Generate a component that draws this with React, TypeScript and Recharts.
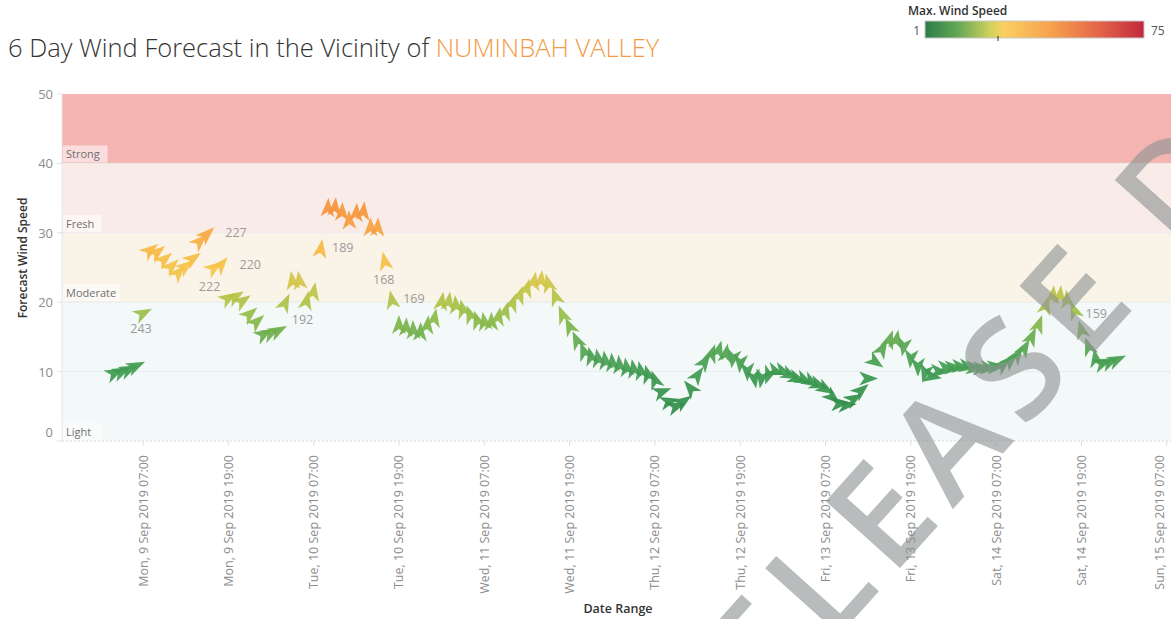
import React from 'react';
import {
  ScatterChart,
  Scatter,
  XAxis,
  YAxis,
  ReferenceArea,
  ReferenceLine,
} from 'recharts';

// hours are counted from Mon 9 Sep 2019 00:00
const firstHour = 3;

const speeds = [
  9.8, 10.0, 10.3, 10.8, 18.4, 27.5, 27.2, 26.2, 25.2, 24.3,
  25.2, 26.3, 28.8, 29.8, 25.0, 25.4, 20.6, 20.8, 20.2, 18.3,
  17.2, 15.4, 15.6, 15.9, 19.9, 23.1, 23.1, 20.2, 21.5, 27.7,
  33.6, 33.7, 33.0, 31.8, 32.9, 33.1, 30.8, 30.8, 25.9, 20.3,
  16.7, 16.4, 16.0, 15.7, 16.7, 17.7, 20.1, 20.1, 19.6, 19.0,
  18.2, 17.4, 17.2, 17.2, 17.9, 18.7, 19.9, 21.0, 22.0, 23.0,
  23.2, 22.7, 20.8, 18.2, 16.5, 14.5, 12.9, 12.2, 11.9, 11.6,
  11.3, 11.0, 10.6, 10.4, 10.1, 9.6, 8.8, 7.1, 5.7, 5.0,
  5.7, 7.6, 9.5, 11.4, 12.6, 13.1, 12.6, 11.9, 11.2, 10.0,
  9.0, 9.0, 9.5, 10.0, 10.0, 9.5, 9.0, 8.8, 8.5, 8.1,
  7.5, 6.3, 5.4, 5.2, 6.1, 7.3, 9.0, 11.4, 13.3, 14.6,
  14.6, 13.6, 11.9, 10.7, 9.8, 9.3, 10.0, 10.5, 10.6, 10.7,
  10.7, 10.5, 10.5, 10.5, 10.7, 11.0, 11.6, 12.4, 13.4, 15.0,
  16.8, 19.5, 21.0, 21.0, 20.4, 18.8, 16.0, 13.6, 11.9, 11.2,
  11.4, 11.7,
];

// wind direction (degrees, where the wind comes from)
const directions = [
  245, 245, 245, 245, 243, 232, 232, 230, 226, 222,
  232, 235, 227, 227, 235, 220, 238, 238, 236, 230,
  228, 240, 242, 242, 205, 172, 172, 192, 190, 189,
  183, 185, 182, 178, 184, 186, 180, 183, 168, 169,
  180, 182, 178, 183, 186, 190, 190, 188, 175, 165,
  160, 162, 170, 180, 190, 195, 200, 200, 195, 190,
  185, 165, 160, 158, 155, 155, 160, 165, 170, 172,
  175, 175, 172, 170, 168, 165, 160, 250, 255, 250,
  235, 140, 215, 215, 200, 195, 190, 10, 5, 0,
  350, 10, 20, 290, 290, 295, 290, 295, 300, 290,
  300, 310, 265, 265, 240, 230, 270, 305, 210, 200,
  190, 10, 5, 0, 15, 280, 275, 275, 270, 275,
  280, 275, 270, 275, 265, 230, 225, 215, 210, 205,
  200, 195, 185, 185, 175, 159, 165, 160, 170, 250,
  245, 245,
];

// hours whose direction is written next to the arrow
const labelledHours = [7, 12, 16, 18, 30, 32, 41, 42, 138];

const bandNames = ['Light', 'Moderate', 'Fresh', 'Strong'];
const bandLows = [0, 20, 30, 40];
const bandHighs = [20, 30, 40, 50];
const bandColors = ['#f3f8f8', '#faf3e8', '#f9ece8', '#f4b4b2'];

const yTicks = [0, 10, 20, 30, 40, 50];
const tickHours = [7, 19, 31, 43, 55, 67, 79, 91, 103, 115, 127, 139, 151];
const tickLabels = [
  'Mon, 9 Sep 2019 07:00',
  'Mon, 9 Sep 2019 19:00',
  'Tue, 10 Sep 2019 07:00',
  'Tue, 10 Sep 2019 19:00',
  'Wed, 11 Sep 2019 07:00',
  'Wed, 11 Sep 2019 19:00',
  'Thu, 12 Sep 2019 07:00',
  'Thu, 12 Sep 2019 19:00',
  'Fri, 13 Sep 2019 07:00',
  'Fri, 13 Sep 2019 19:00',
  'Sat, 14 Sep 2019 07:00',
  'Sat, 14 Sep 2019 19:00',
  'Sun, 15 Sep 2019 07:00',
];

const data = speeds.map((speed, i) => {
  const hour = firstHour + i;
  return {
    hour,
    speed,
    direction: directions[i],
    label: labelledHours.includes(hour) ? String(directions[i]) : null,
  };
});

// where each direction label sits relative to its arrow
const labelOffsets: Record<number, [number, number]> = {
  7: [-2, 15],
  12: [31, 14],
  16: [29, -2],
  18: [29, 0],
  30: [-4, 19],
  32: [22, -1],
  41: [-1, 18],
  42: [22, -2],
  138: [22, 3],
};

const colorStops: [number, string][] = [
  [0, '#2a8143'],
  [6, '#32904a'],
  [10, '#3e9a50'],
  [13, '#52a452'],
  [15.5, '#6cae4c'],
  [18, '#92bd48'],
  [20, '#aec246'],
  [22.5, '#c8c646'],
  [24.5, '#f4c648'],
  [27.5, '#f8b943'],
  [30, '#f7a53f'],
  [34, '#f5923a'],
];

const hexToRgb = (h: string) => [1, 3, 5].map((i) => parseInt(h.slice(i, i + 2), 16));

const speedColor = (v: number) => {
  if (v <= colorStops[0][0]) return colorStops[0][1];
  for (let i = 1; i < colorStops.length; i++) {
    const [v1, c1] = colorStops[i];
    if (v <= v1) {
      const [v0, c0] = colorStops[i - 1];
      const t = (v - v0) / (v1 - v0);
      const a = hexToRgb(c0);
      const b = hexToRgb(c1);
      const rgb = a.map((x, k) => Math.round(x + (b[k] - x) * t));
      return `rgb(${rgb.join(',')})`;
    }
  }
  return colorStops[colorStops.length - 1][1];
};

const WindArrow = (props: any) => {
  const { cx, cy, payload } = props;
  if (cx == null || cy == null) return null;
  const rot = (payload.direction + 180) % 360;
  const off = labelOffsets[payload.hour];
  return (
    <g>
      <path
        d="M0,-10 L7,9 L0,4 L-7,9 Z"
        transform={`translate(${cx},${cy}) rotate(${rot})`}
        fill={speedColor(payload.speed)}
        fillOpacity={0.92}
      />
      {payload.label && off && (
        <text
          x={cx + off[0]}
          y={cy + off[1]}
          textAnchor="middle"
          dominantBaseline="central"
          fontSize={12.5}
          fill="#9a9a9a"
        >
          {payload.label}
        </text>
      )}
    </g>
  );
};

const BandLabel = (props: any) => {
  const { viewBox, text } = props;
  if (!viewBox) return null;
  const { x, y, height } = viewBox;
  const w = text.length * 6.1 + 8;
  return (
    <g>
      <rect x={x + 1} y={y + height - 18} width={w} height={17} fill="#ffffff" fillOpacity={0.55} />
      <text x={x + 4} y={y + height - 9.5} dominantBaseline="central" fontSize={11} fill="#707070">
        {text}
      </text>
    </g>
  );
};

const SpeedTick = (props: any) => {
  const { x, y, payload } = props;
  return (
    <text
      x={x}
      y={payload.value === 0 ? y - 9 : y}
      textAnchor="end"
      dominantBaseline="central"
      fontSize={13}
      fill="#8c8c8c"
    >
      {payload.value}
    </text>
  );
};

const DateTick = (props: any) => {
  const { x, y, payload } = props;
  const idx = tickHours.indexOf(payload.value);
  const ty = y + 7;
  return (
    <text
      x={x}
      y={ty}
      transform={`rotate(-90, ${x}, ${ty})`}
      textAnchor="end"
      dominantBaseline="central"
      fontSize={12.5}
      fill="#8c8c8c"
    >
      {tickLabels[idx]}
    </text>
  );
};

const App: React.FC = () => {
  return (
    <div
      style={{
        position: 'absolute',
        left: 0,
        top: 0,
        width: 1171,
        height: 619,
        overflow: 'hidden',
        background: '#ffffff',
        fontFamily: '"Open Sans", sans-serif',
      }}
    >
      <ScatterChart width={1171} height={619} margin={{ top: 94, right: 0, bottom: 0, left: 0 }}>
        <XAxis
          type="number"
          dataKey="hour"
          domain={[-4.4, 151.6]}
          ticks={tickHours}
          allowDataOverflow
          height={178}
          tick={<DateTick />}
          tickSize={5}
          axisLine={{ stroke: '#d8d8d8', strokeDasharray: '2 2' }}
          tickLine={{ stroke: '#dddddd' }}
        />
        <YAxis
          type="number"
          dataKey="speed"
          domain={[0, 50]}
          ticks={yTicks}
          width={62}
          tick={<SpeedTick />}
          tickSize={5}
          tickMargin={4}
          axisLine={{ stroke: '#e6e6e6' }}
          tickLine={{ stroke: '#e0e0e0' }}
        />
        {bandNames.map((name, i) => (
          <ReferenceArea
            key={name}
            y1={bandLows[i]}
            y2={bandHighs[i]}
            fill={bandColors[i]}
            fillOpacity={1}
            stroke="none"
            label={(p: any) => <BandLabel {...p} text={name} />}
          />
        ))}
        {yTicks.slice(1, 5).map((t) => (
          <ReferenceLine key={t} y={t} stroke="#e9ecec" strokeWidth={1} />
        ))}
        <Scatter data={data} shape={<WindArrow />} isAnimationActive={false} />
      </ScatterChart>

      <svg
        width={1171}
        height={619}
        style={{ position: 'absolute', left: 0, top: 0, pointerEvents: 'none' }}
      >
        <defs>
          <linearGradient id="legendGrad" x1="0" x2="1" y1="0" y2="0">
            <stop offset="0" stopColor="#2b7c49" />
            <stop offset="0.15" stopColor="#63a855" />
            <stop offset="0.3" stopColor="#d2d15c" />
            <stop offset="0.36" stopColor="#fbcf62" />
            <stop offset="0.58" stopColor="#f6a04d" />
            <stop offset="0.8" stopColor="#e3634a" />
            <stop offset="1" stopColor="#c1283c" />
          </linearGradient>
        </defs>

        <text x={8} y={57} fontSize={25.5} fontWeight={300} fill="#333333">
          6 Day Wind Forecast in the Vicinity of <tspan fill="#f39a45">NUMINBAH VALLEY</tspan>
        </text>

        <text x={908} y={15} fontSize={12} fontWeight={600} fill="#333333">
          Max. Wind Speed
        </text>
        <rect x={925} y={21} width={219} height={17} fill="url(#legendGrad)" stroke="#c8c8c8" />
        <line x1={998} x2={998} y1={36} y2={41} stroke="#333333" />
        <text x={920} y={35} fontSize={12} fill="#555555" textAnchor="end">
          1
        </text>
        <text x={1151} y={35} fontSize={12} fill="#555555">
          75
        </text>

        <text
          x={22}
          y={258}
          transform="rotate(-90, 22, 258)"
          textAnchor="middle"
          dominantBaseline="central"
          fontSize={12}
          fontWeight={600}
          fill="#333333"
        >
          Forecast Wind Speed
        </text>
        <text x={618} y={613} textAnchor="middle" fontSize={12.5} fontWeight={600} fill="#333333">
          Date Range
        </text>

        <text
          x={700}
          y={790}
          transform="rotate(-48, 700, 790)"
          fontSize={140}
          fontWeight={600}
          letterSpacing={14}
          fill="#8e9393"
          fillOpacity={0.62}
        >
          RELEASE DRAFT
        </text>
      </svg>
    </div>
  );
};

export default App;
